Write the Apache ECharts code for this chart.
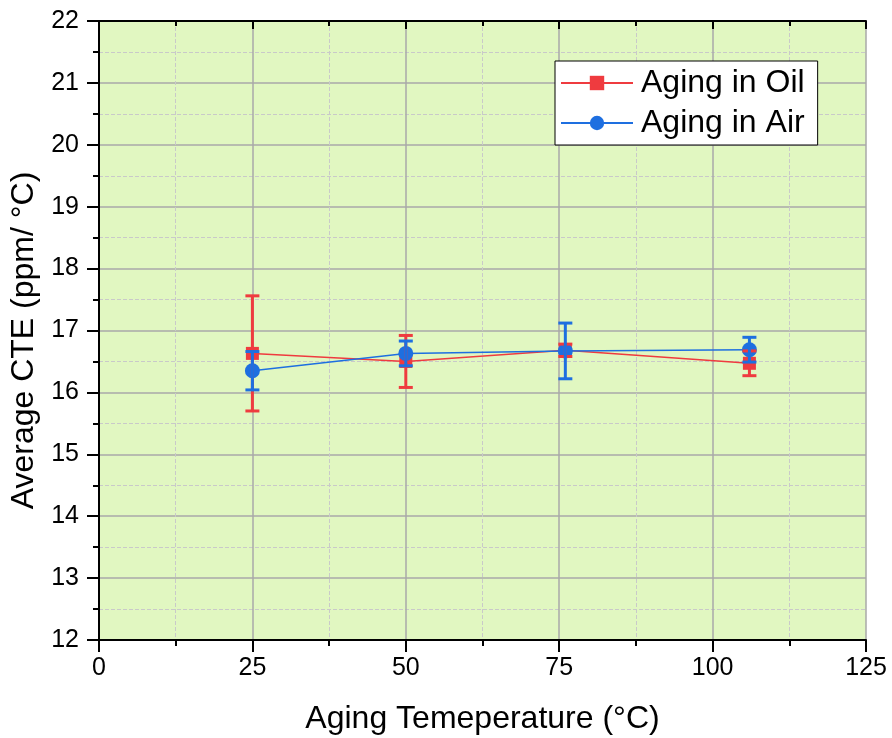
<!DOCTYPE html>
<html>
<head>
<meta charset="utf-8">
<script src="https://cdn.jsdelivr.net/npm/echarts@6/dist/echarts.min.js"></script>
<style>html,body{margin:0;padding:0;background:#fff;}#c{width:892px;height:738px;}</style>
</head>
<body>
<div id="c"></div>
<script>
const temps = [25, 50, 76, 106];
const oilMean = [16.63, 16.50, 16.68, 16.47];
const oilErr = [0.93, 0.42, 0.10, 0.20];
const airMean = [16.35, 16.63, 16.67, 16.69];
const airErr = [0.31, 0.20, 0.45, 0.20];
const seriesNames = ['Aging in Oil', 'Aging in Air'];
const xTitle = 'Aging Temeperature (°C)';
const yTitle = 'Average CTE (ppm/ °C)';

const RED = '#ef3b3f';
const BLUE = '#1e6fe0';
const FONT = 'Liberation Sans, Arial, sans-serif';

function pts(means) { return temps.map((t, i) => [t, means[i]]); }
function errs(means, e) { return temps.map((t, i) => [t, means[i] - e[i], means[i] + e[i]]); }

function errRender(color) {
  return function (params, api) {
    const x = api.value(0);
    const lo = api.coord([x, api.value(1)]);
    const hi = api.coord([x, api.value(2)]);
    const hw = 7;
    const st = { stroke: color, lineWidth: 3 };
    return {
      type: 'group',
      children: [
        { type: 'line', shape: { x1: lo[0], y1: lo[1], x2: hi[0], y2: hi[1] }, style: st },
        { type: 'line', shape: { x1: lo[0] - hw, y1: lo[1], x2: lo[0] + hw, y2: lo[1] }, style: st },
        { type: 'line', shape: { x1: hi[0] - hw, y1: hi[1], x2: hi[0] + hw, y2: hi[1] }, style: st }
      ]
    };
  };
}

const chart = echarts.init(document.getElementById('c'), null, { renderer: 'canvas' });
const axisLine = { show: true, lineStyle: { color: '#000', width: 2 } };
chart.setOption({
  animation: false,
  textStyle: { fontFamily: FONT },
  grid: { left: 99, right: 26, top: 21, bottom: 98, show: true, backgroundColor: '#e1f7c1', borderWidth: 0, outerBoundsMode: 'none', containLabel: false },
  legend: {
    show: true,
    orient: 'vertical',
    left: 555, top: 61,
    data: seriesNames,
    backgroundColor: '#fff',
    borderColor: '#000', borderWidth: 1, borderRadius: 0,
    padding: [6, 13, 6, 5],
    itemWidth: 72, itemHeight: 18, itemGap: 8,
    textStyle: { fontSize: 32, color: '#000', fontFamily: FONT, lineHeight: 32, padding: [0, 0, 0, 3] }
  },
  xAxis: [{
    type: 'value', min: 0, max: 125, interval: 25,
    name: xTitle, nameLocation: 'middle', nameGap: 63,
    nameTextStyle: { fontSize: 32, color: '#000', fontFamily: FONT },
    axisLine: axisLine,
    axisTick: { show: true, inside: false, length: 12, lineStyle: { color: '#000', width: 2 } },
    minorTick: { show: true, splitNumber: 2, length: 6, lineStyle: { color: '#000', width: 2 } },
    axisLabel: { fontSize: 25, color: '#000', margin: 16, fontFamily: FONT },
    splitLine: { show: true, lineStyle: { color: '#a8a8a8', width: 1.5 } },
    minorSplitLine: { show: true, lineStyle: { color: '#c9c9c9', type: 'dashed', width: 1 } }
  }, {
    type: 'value', min: 0, max: 125, interval: 25, position: 'top',
    axisLine: axisLine,
    axisTick: { show: true, inside: true, length: 8, lineStyle: { color: '#000', width: 2 } },
    minorTick: { show: true, splitNumber: 2, length: 5, lineStyle: { color: '#000', width: 2 } },
    axisLabel: { show: false }, splitLine: { show: false }
  }],
  yAxis: [{
    type: 'value', min: 12, max: 22, interval: 1,
    name: yTitle, nameLocation: 'middle', nameGap: 54,
    nameTextStyle: { fontSize: 32, color: '#000', fontFamily: FONT, padding: [0, 20, 0, 0] },
    axisLine: axisLine,
    axisTick: { show: true, inside: false, length: 12, lineStyle: { color: '#000', width: 2 } },
    minorTick: { show: true, splitNumber: 2, length: 6, lineStyle: { color: '#000', width: 2 } },
    axisLabel: { fontSize: 25, color: '#000', margin: 20, fontFamily: FONT },
    splitLine: { show: true, lineStyle: { color: '#a8a8a8', width: 1.5 } },
    minorSplitLine: { show: true, lineStyle: { color: '#c9c9c9', type: 'dashed', width: 1 } }
  }, {
    type: 'value', min: 12, max: 22, interval: 1, position: 'right',
    axisLine: axisLine,
    axisTick: { show: true, inside: true, length: 8, lineStyle: { color: '#000', width: 2 } },
    minorTick: { show: true, splitNumber: 2, length: 5, lineStyle: { color: '#000', width: 2 } },
    axisLabel: { show: false }, splitLine: { show: false }
  }],
  series: [
    {
      name: seriesNames[0], type: 'line', data: pts(oilMean), z: 3,
      symbol: 'rect', symbolSize: 13,
      itemStyle: { color: RED }, lineStyle: { color: RED, width: 1.5 }
    },
    {
      name: seriesNames[1], type: 'line', data: pts(airMean), z: 3,
      symbol: 'circle', symbolSize: 15,
      itemStyle: { color: BLUE }, lineStyle: { color: BLUE, width: 1.5 }
    },
    {
      name: 'oilErr', type: 'custom', data: errs(oilMean, oilErr), z: 4,
      renderItem: errRender(RED), encode: { x: 0, y: [1, 2] }
    },
    {
      name: 'airErr', type: 'custom', data: errs(airMean, airErr), z: 5,
      renderItem: errRender(BLUE), encode: { x: 0, y: [1, 2] }
    }
  ]
});
</script>
</body>
</html>
